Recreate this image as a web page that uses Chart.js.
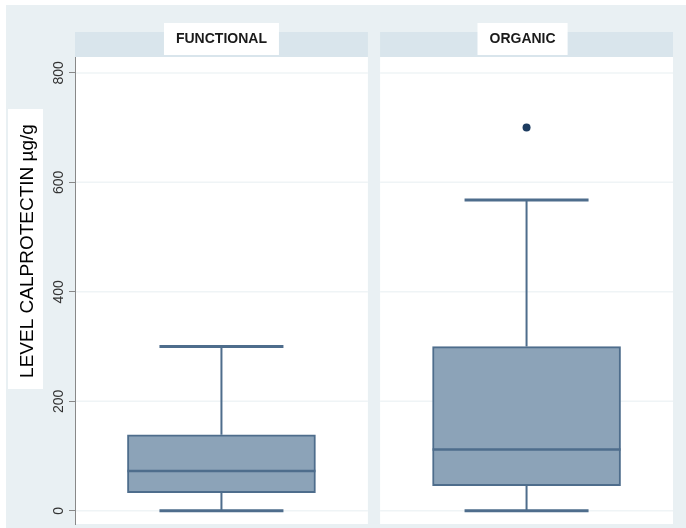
<!DOCTYPE html>
<html>
<head>
<meta charset="utf-8">
<script src="https://cdn.jsdelivr.net/npm/chart.js@4.4.1/dist/chart.umd.min.js"></script>
<style>
  html, body { margin: 0; padding: 0; background: #fff; }
  #wrap { width: 686px; height: 528px; }
</style>
</head>
<body>
<div id="wrap"><canvas id="boxChart"></canvas></div>
<script>
// box plot summaries
const categories = ['FUNCTIONAL', 'ORGANIC'];
const lowerWhisker = [0, 0];
const q1 = [33, 46];
const median = [73, 112];
const q3 = [139, 300];
const upperWhisker = [300, 568];
const outliers = [null, 700];
const yTicks = [0, 200, 400, 600, 800];
const yTitle = 'LEVEL CALPROTECTIN µg/g';

const outerBg = '#e9f0f3';
const headerBg = '#d9e5ec';
const boxLine = '#4e6d8c';

// each panel spans about half a unit either side of its category position
function panelEdges(x, i) {
    return [x.getPixelForValue(i - 0.48), x.getPixelForValue(i + 0.48)];
}

// panels, headers, labels and whiskers (chart.js has no box plot type)
const panelPlugin = {
    id: 'panels',
    beforeDraw(chart) {
        const { ctx, chartArea: a, scales: { x } } = chart;
        ctx.save();
        ctx.fillStyle = outerBg;
        ctx.fillRect(6, 5, chart.width, chart.height);
        categories.forEach((c, i) => {
            const [left, right] = panelEdges(x, i);
            ctx.fillStyle = '#ffffff';
            ctx.fillRect(left, a.top, right - left, a.bottom - a.top);
            ctx.fillStyle = headerBg;
            ctx.fillRect(left, a.top - 25, right - left, 25);
        });
        ctx.restore();
    },
    beforeDatasetsDraw(chart) {
        const { ctx, scales: { x, y } } = chart;
        ctx.save();
        // faint grid per panel
        ctx.strokeStyle = '#eff4f6';
        ctx.lineWidth = 1.5;
        categories.forEach((c, i) => {
            const [left, right] = panelEdges(x, i);
            yTicks.forEach(v => {
                const py = y.getPixelForValue(v);
                ctx.beginPath();
                ctx.moveTo(left + (i === 0 ? 1 : 0), py);
                ctx.lineTo(right, py);
                ctx.stroke();
            });
        });
        // whiskers and caps
        ctx.strokeStyle = boxLine;
        categories.forEach((c, i) => {
            const cx = x.getPixelForValue(i);
            ctx.lineWidth = 2;
            ctx.beginPath();
            ctx.moveTo(cx, y.getPixelForValue(q3[i]));
            ctx.lineTo(cx, y.getPixelForValue(upperWhisker[i]));
            ctx.moveTo(cx, y.getPixelForValue(q1[i]));
            ctx.lineTo(cx, y.getPixelForValue(lowerWhisker[i]));
            ctx.stroke();
            ctx.lineWidth = 3;
            ctx.beginPath();
            [upperWhisker[i], lowerWhisker[i]].forEach(v => {
                const py = y.getPixelForValue(v);
                ctx.moveTo(cx - 62, py);
                ctx.lineTo(cx + 62, py);
            });
            ctx.stroke();
        });
        ctx.restore();
    },
    afterDatasetsDraw(chart) {
        const { ctx, scales: { y } } = chart;
        const meta = chart.getDatasetMeta(0);
        ctx.save();
        ctx.strokeStyle = boxLine;
        ctx.lineWidth = 2.5;
        categories.forEach((c, i) => {
            const bar = meta.data[i];
            const py = y.getPixelForValue(median[i]);
            ctx.beginPath();
            ctx.moveTo(bar.x - bar.width / 2, py);
            ctx.lineTo(bar.x + bar.width / 2, py);
            ctx.stroke();
        });
        ctx.restore();
    },
    afterDraw(chart) {
        const { ctx, chartArea: a, scales: { x, y } } = chart;
        ctx.save();
        // panel titles in white boxes
        ctx.font = 'bold 14px "Liberation Sans Narrow", "Liberation Sans", sans-serif';
        ctx.textAlign = 'center';
        ctx.textBaseline = 'middle';
        categories.forEach((c, i) => {
            const cx = x.getPixelForValue(i) - (i === 1 ? 4 : 0);
            const w = ctx.measureText(c).width + 24;
            ctx.fillStyle = '#ffffff';
            ctx.fillRect(cx - w / 2, a.top - 34, w, 32);
            ctx.fillStyle = '#1a1a1a';
            ctx.fillText(c, cx, a.top - 18);
        });
        // rotated y tick labels
        ctx.font = '14px "Liberation Sans", sans-serif';
        ctx.fillStyle = '#333';
        y.ticks.forEach(t => {
            ctx.save();
            ctx.translate(59, y.getPixelForValue(t.value));
            ctx.rotate(-Math.PI / 2);
            ctx.fillText(String(t.value), 0, 0);
            ctx.restore();
        });
        // y title in white box
        ctx.fillStyle = '#ffffff';
        ctx.fillRect(8, 109, 35, 280);
        ctx.save();
        ctx.translate(28, 251);
        ctx.rotate(-Math.PI / 2);
        ctx.font = '19px "Liberation Sans", sans-serif';
        ctx.fillStyle = '#000';
        ctx.fillText(yTitle, 0, 0);
        ctx.restore();
        ctx.restore();
    }
};

const ctx = document.getElementById('boxChart').getContext('2d');
new Chart(ctx, {
    type: 'bar',
    data: {
        datasets: [{
            data: categories.map((c, i) => ({ x: i, y: [q1[i], q3[i]] })),
            backgroundColor: '#8ca3b8',
            borderColor: boxLine,
            borderWidth: 2,
            borderSkipped: false,
            barThickness: 188
        }, {
            type: 'line',
            data: categories.map((c, i) => ({ x: i, y: outliers[i] })),
            showLine: false,
            pointRadius: 4,
            pointBackgroundColor: '#1d3c60',
            pointBorderWidth: 0
        }]
    },
    options: {
        responsive: true,
        maintainAspectRatio: false,
        animation: false,
        layout: { padding: { top: 57, right: 13, bottom: 3, left: 0 } },
        plugins: { legend: { display: false }, tooltip: { enabled: false } },
        scales: {
            x: { type: 'linear', min: -0.48, max: 1.48, offset: false, display: false },
            y: {
                min: -24,
                max: 829,
                afterBuildTicks: s => { s.ticks = yTicks.map(v => ({ value: v })); },
                afterFit: s => { s.width = 75; },
                ticks: { display: false },
                grid: { drawOnChartArea: false, color: '#888', tickLength: 6 },
                border: { display: true, color: '#888' }
            }
        }
    },
    plugins: [panelPlugin]
});
</script>
</body>
</html>
